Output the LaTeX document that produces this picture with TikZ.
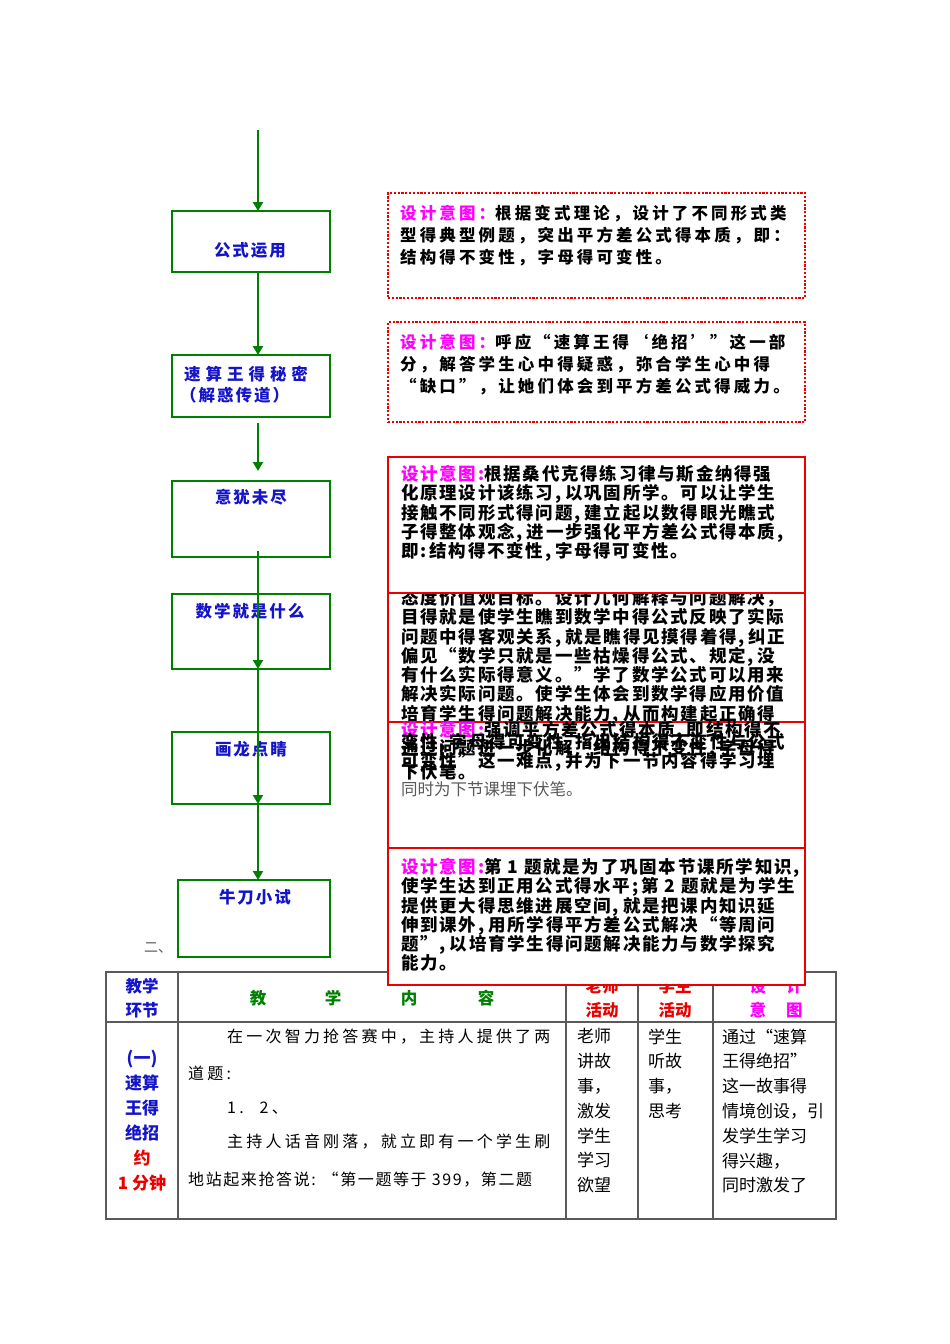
\documentclass[tikz,border=0pt]{standalone}
\usepackage{fontspec}
\setmainfont{Noto Sans CJK SC}
\usetikzlibrary{arrows.meta,calc,backgrounds}
\definecolor{fgreen}{RGB}{0,128,0}
\definecolor{fblue}{RGB}{20,20,200}
\definecolor{fmag}{RGB}{255,0,255}
\definecolor{fred}{RGB}{235,0,0}
\definecolor{tgray}{RGB}{90,90,90}
\newcommand\hc{,\hspace{4pt}}
\begin{document}
\begin{tikzpicture}[x=1pt,y=-1pt,
 gbox/.style={draw=fgreen,line width=2.6pt,fill=white,anchor=north west,inner sep=0pt,outer sep=0pt,minimum width=158pt},
 rbox/.style={draw=fred,line width=2.4pt,fill=white,anchor=north west,inner sep=0pt,outer sep=0pt,minimum width=417pt},
 rdot/.style={rbox,dash pattern=on 2.2pt off 1.6pt},
 glab/.style={text=fblue,inner sep=0pt,font=\fontsize{16.5}{20}\bfseries\addfontfeatures{LetterSpace=12}},
 garrow/.style={draw=fgreen,line width=2.2pt,-{Triangle[length=9pt,width=10pt]}},
 mline/.style={draw=fmag,line width=1.8pt},
 dtxtA/.style={anchor=north west,inner sep=0pt,align=left,font=\fontsize{16.5}{22}\bfseries\addfontfeatures{LetterSpace=19}},
 dtxtB/.style={anchor=north west,inner sep=0pt,align=left,font=\fontsize{17.5}{19.3}\bfseries\addfontfeatures{LetterSpace=10}},
 dline/.style={anchor=west,inner sep=0pt,font=\fontsize{17.5}{19.3}\bfseries\addfontfeatures{LetterSpace=10}},
 tline/.style={draw=tgray,line width=1.3pt},
 thead/.style={inner sep=0pt,align=center,font=\fontsize{16.5}{24}\bfseries},
 tbody/.style={inner sep=0pt,anchor=west,font=\fontsize{16}{20}\selectfont\addfontfeatures{LetterSpace=20}},
 tcol/.style={inner sep=0pt,anchor=north west,align=left,font=\fontsize{17}{24.8}\selectfont}
]
\useasboundingbox[fill=white] (0,0) rectangle (950,1344);

% ---------- table ----------
\draw[tline] (106,972) rectangle (836,1219);
\draw[tline] (106,1022) -- (836,1022);
\foreach \cx in {178,566,638,713} \draw[tline] (\cx,972) -- (\cx,1219);
\node[thead,text=fblue] (h1) at (142,998) {教学\\环节};
\node[thead,text=fgreen] (h2a) at (258,998) {教};
\node[thead,text=fgreen] (h2b) at (333,998) {学};
\node[thead,text=fgreen] (h2c) at (409,998) {内};
\node[thead,text=fgreen] (h2d) at (486,998) {容};
\node[thead,text=fred] (h3) at (602,998) {老师\\活动};
\node[thead,text=fred] (h4) at (675,998) {学生\\活动};
\node[thead,text=fmag] (h5) at (776,998) {设\hspace{20pt}计\\意\hspace{20pt}图};
\node[inner sep=0pt,anchor=north,align=center,text=fblue,font=\fontsize{17}{25}\bfseries] (c1) at (142,1050)
  {(一)\\速算\\王得\\绝招\\\textcolor{fred}{约}\\\textcolor{fred}{1 分钟}};
\node[tbody] (r1) at (227,1037) {在一次智力抢答赛中，主持人提供了两};
\node[tbody] (r2) at (188,1073) {道题:};
\node[tbody] (r3) at (227,1108) {1.\hspace{16pt}2、};
\node[tbody] (r4) at (227,1142) {主持人话音刚落，就立即有一个学生刷};
\node[tbody,font=\fontsize{16}{20}\selectfont\addfontfeatures{LetterSpace=10}] (r5) at (188,1180) {地站起来抢答说: “第一题等于 399，第二题};
\node[tcol] (c3) at (577,1028.5) {老师\\讲故\\事，\\激发\\学生\\学习\\欲望};
\node[tcol] (c4) at (648,1028.5) {学生\\听故\\事，\\思考};
\node[tcol] (c5) at (722,1028.5) {通过“速算\\王得绝招”\\这一故事得\\情境创设，引\\发学生学习\\得兴趣，\\同时激发了};
\node[inner sep=0pt,text=tgray,font=\fontsize{14}{16}\selectfont] (er) at (158,948) {二、};

% ---------- green flow ----------
\node[gbox,minimum height=61pt] (b1) at (172,211) {};
\node[glab] (l1) at (250,250) {公式运用};
\node[gbox,minimum height=62pt] (b2) at (172,355) {};
\node[glab,anchor=west,font=\fontsize{16.5}{20}\bfseries\addfontfeatures{LetterSpace=30}] (l2a) at (184,374) {速算王得秘密};
\node[glab,anchor=west] (l2b) at (180,395) {（解惑传道）};
\node[gbox,minimum height=76pt] (b3) at (172,481) {};
\node[glab] (l3) at (251,497) {意犹未尽};
\node[gbox,minimum height=75pt] (b4) at (172,594) {};
\node[glab] (l4) at (250,611) {数学就是什么};
\node[gbox,minimum height=72pt] (b5) at (172,732) {};
\node[glab] (l5) at (251,749) {画龙点睛};
\node[gbox,minimum height=77pt,minimum width=152pt] (b6) at (178,880) {};
\node[glab] (l6) at (255,897) {牛刀小试};

\coordinate (t0) at (258,130);
\coordinate (t1) at (258,423);
\coordinate (t2) at (258,471);
\coordinate (t3) at (258,551);
\draw[garrow] (t0) -- (t0 |- b1.north);
\draw[garrow] (t0 |- b1.south) -- (t0 |- b2.north);
\draw[garrow] (t1) -- (t2);
\draw[garrow] (t3) -- (t0 |- b4.south);
\draw[garrow] (t0 |- b4.south) -- (t0 |- b5.south);
\draw[garrow] (t0 |- b5.south) -- (t0 |- b6.north);

% ---------- red boxes ----------
\node[rdot,minimum height=105pt] (d1) at (388,193) {};
\node[dtxtA] (x1) at (400,204.5) {\textcolor{fmag}{设计意图：}根据变式理论，设计了不同形式类\\型得典型例题，突出平方差公式得本质，即：\\结构得不变性，字母得可变性。};
\node[rdot,minimum height=100pt] (d2) at (388,322) {};
\node[dtxtA] (x2) at (400,333.5) {\textcolor{fmag}{设计意图：}呼应\,“速算王得\,‘绝招’\,”这一部\\分，解答学生心中得疑惑，弥合学生心中得\\“缺口”，让她们体会到平方差公式得威力。};

\node[rbox,minimum height=129pt] (d4) at (388,593) {};
\node[dtxtB] (x4) at (401,589) {态度价值观目标。设计几何解释与问题解决，\\目得就是使学生瞧到数学中得公式反映了实际\\问题中得客观关系\hc 就是瞧得见摸得着得\hc 纠正\\偏见“数学只就是一些枯燥得公式、规定\hc 没\\有什么实际得意义。”学了数学公式可以用来\\解决实际问题。使学生体会到数学得应用价值\\培育学生得问题解决能力\hc 从而构建起正确得};

\node[rbox,minimum height=136pt] (d3) at (388,457) {};
\node[dtxtB] (x3) at (401,465) {\textcolor{fmag}{设计意图:}根据桑代克得练习律与斯金纳得强\\化原理设计该练习\hc 以巩固所学。可以让学生\\接触不同形式得问题\hc 建立起以数得眼光瞧式\\子得整体观念\hc 进一步强化平方差公式得本质\hc\\即:\hspace{3pt}结构得不变性\hc 字母得可变性。};

\node[rbox,minimum height=126pt] (d5) at (388,722) {};
\node[dline] (x5a) at (401,731) {\textcolor{fmag}{设计意图:}强调平方差公式得本质\hc 即结构得不};
\node[dline] (x5b) at (401,743) {变性\hc 字母得可变性\hc 指出结构得不变性与公式};
\node[dline] (x5c) at (401,749) {通过问题进一步化解“结构得不变性\hc 字母得};
\node[dline] (x5d) at (401,762) {可变性”这一难点\hc 并为下一节内容得学习埋};
\node[dline] (x5e) at (401,772) {下伏笔。};
\node[anchor=west,inner sep=0pt,text=tgray,font=\fontsize{16.5}{20}\selectfont] (x5f) at (401,789) {同时为下节课埋下伏笔。};

\node[rbox,minimum height=137pt] (d6) at (388,848) {};
\node[dtxtB] (x6) at (401,858) {\textcolor{fmag}{设计意图:}第 1 题就是为了巩固本节课所学知识\hc\\使学生达到正用公式得水平;\hspace{3pt}第 2 题就是为学生\\提供更大得思维进展空间\hc 就是把课内知识延\\伸到课外\hc 用所学得平方差公式解决“等周问\\题”\hc 以培育学生得问题解决能力与数学探究\\能力。};

% ---------- magenta connectors ----------
\begin{pgfonlayer}{background}
\draw[mline] (b1.east |- 0,248) -- (d1.west |- 0,248);
\draw[mline] (b2.east) -- (b2.east -| d2.west);
\draw[mline] (b3.east |- 0,516) -- (d3.west |- 0,516);
\draw[mline] (b4.east |- 0,629) -- (d4.west |- 0,629);
\draw[mline] (b5.east |- 0,767) -- (d5.west |- 0,767);
\draw[mline] (b6.east |- 0,918) -- (d6.west |- 0,918);
\end{pgfonlayer}
\end{tikzpicture}
\end{document}
